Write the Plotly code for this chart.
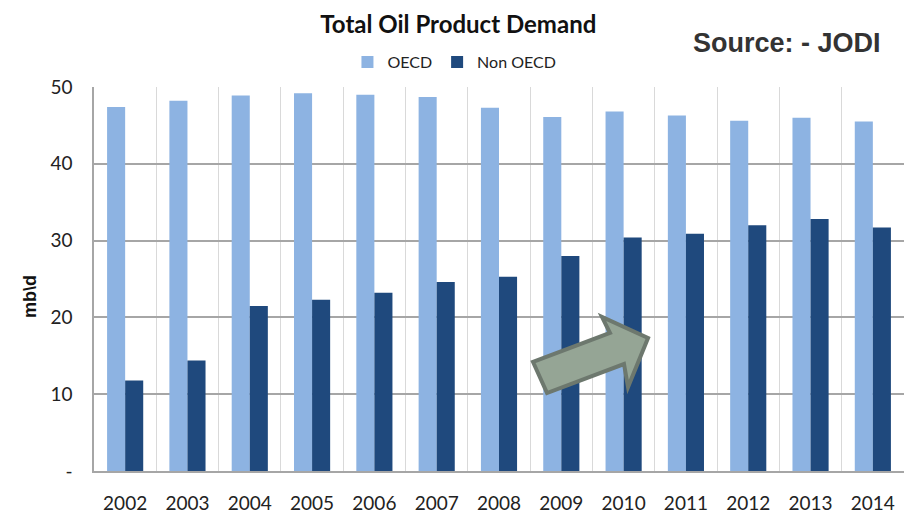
import plotly.graph_objects as go

years = ["2002", "2003", "2004", "2005", "2006", "2007", "2008",
         "2009", "2010", "2011", "2012", "2013", "2014"]
oecd = [47.4, 48.2, 48.9, 49.2, 49.0, 48.7, 47.3, 46.1, 46.8, 46.3, 45.6, 46.0, 45.5]
non_oecd = [11.8, 14.4, 21.5, 22.3, 23.2, 24.6, 25.3, 28.0, 30.4, 30.9, 32.0, 32.8, 31.7]
ytick_vals = [0, 10, 20, 30, 40, 50]
ytick_text = ["-", "10", "20", "30", "40", "50"]

FONT = "Lato, DejaVu Sans Condensed, sans-serif"
ARIAL = "Liberation Sans, Arial, sans-serif"
W, H = 904, 518
L, R, T, B = 94, 0, 87, 47
pw, ph = W - L - R, H - T - B

fig = go.Figure()
fig.add_trace(go.Bar(x=years, y=oecd, name="OECD", marker_color="#8db3e2",
                     marker_line_width=0))
fig.add_trace(go.Bar(x=years, y=non_oecd, name="Non OECD", marker_color="#1f497d",
                     marker_line_width=0))

def px(x, y):
    return (x - L) / pw, (H - B - y) / ph

arrow_pts = [(533, 362), (610, 333), (602, 317), (648, 338), (628, 387), (624, 364), (547, 393)]
path = "M " + " L ".join(f"{px(x, y)[0]:.4f},{px(x, y)[1]:.4f}" for x, y in arrow_pts) + " Z"
fig.add_shape(type="path", path=path, xref="paper", yref="paper",
              fillcolor="#95a595", line=dict(color="#6d786e", width=4), layer="above")

fig.update_layout(
    width=W, height=H,
    margin=dict(l=L, r=R, t=T, b=B, autoexpand=False),
    paper_bgcolor="white", plot_bgcolor="white",
    barmode="group", bargap=0.42, bargroupgap=0,
    font=dict(family=FONT, size=16, color="#222"),
    title=dict(text="<b>Total Oil Product Demand</b>", x=0.507, xanchor="center",
               y=1 - 25 / H, yanchor="middle",
               font=dict(family=FONT, size=24, color="#111")),
    legend=dict(orientation="h", x=0.445, xanchor="center", y=(H - B - 62) / ph,
                yanchor="middle", font=dict(family=FONT, size=16, color="#222"),
                itemwidth=30, traceorder="normal", bgcolor="rgba(0,0,0,0)"),
    showlegend=True,
)
fig.update_xaxes(type="category", showgrid=True, gridcolor="#d9d9d9", gridwidth=1,
                 tickson="boundaries", ticks="", showline=True, linecolor="#a6a6a6",
                 linewidth=1.5, tickfont=dict(family=FONT, size=19, color="#222"),
                 ticklabelstandoff=14)
fig.update_yaxes(range=[0, 50], tickvals=ytick_vals, ticktext=ytick_text,
                 showgrid=True, gridcolor="#a6a6a6", gridwidth=1.5,
                 showline=True, linecolor="#a6a6a6", linewidth=1.5, zeroline=False,
                 ticks="", ticklabelstandoff=16,
                 tickfont=dict(family=FONT, size=19, color="#222"))
fig.add_annotation(text="<b>mb\\d</b>", xref="paper", yref="paper",
                   x=(30 - L) / pw, y=(H - B - 297) / ph, showarrow=False,
                   textangle=-90, xanchor="center", yanchor="middle",
                   font=dict(family=ARIAL, size=18, color="#111"))
fig.add_annotation(text="<b>Source: - JODI</b>", xref="paper", yref="paper",
                   x=(787 - L) / pw, y=(H - B - 43) / ph, showarrow=False,
                   xanchor="center", yanchor="middle",
                   font=dict(family=ARIAL, size=27, color="#333"))

fig.write_html("out.html", config={"displayModeBar": False},
               post_script="document.body.style.margin='0px';document.body.style.padding='0px';")
